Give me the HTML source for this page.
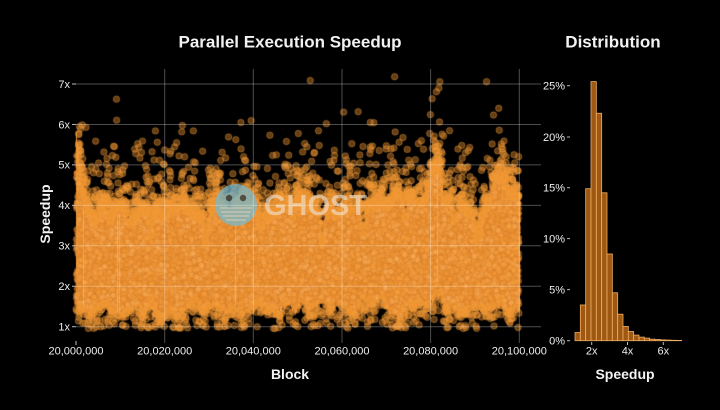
<!DOCTYPE html>
<html><head><meta charset="utf-8">
<style>
html,body{margin:0;padding:0;background:#000;}
#wrap{position:relative;width:720px;height:410px;background:#000;overflow:hidden;}
canvas,svg{position:absolute;left:0;top:0;}
text{font-family:"Liberation Sans",sans-serif;}
</style></head>
<body>
<div id="wrap">
<canvas id="c" width="720" height="410"></canvas>
<svg id="s" width="720" height="410" xmlns="http://www.w3.org/2000/svg">
  <!-- watermark -->
  <g opacity="0.75">
    <circle cx="236" cy="205" r="21" fill="rgb(120,185,205)"/>
    <circle cx="229" cy="198" r="3.2" fill="#22384a"/>
    <circle cx="243" cy="198" r="3.2" fill="#22384a"/>
    <g stroke="rgba(225,240,240,0.8)" stroke-width="1">
      <line x1="220" y1="208" x2="252" y2="208"/>
      <line x1="221" y1="212" x2="251" y2="212"/>
      <line x1="223" y1="216" x2="249" y2="216"/>
      <line x1="226" y1="220" x2="246" y2="220"/>
    </g>
  </g>
  <text x="264" y="215" font-size="29" font-weight="bold" fill="rgba(238,236,232,0.55)">GHOST</text>

  <!-- gridlines left -->
  <g stroke="rgba(255,255,255,0.3)" stroke-width="1">
    <line x1="76" y1="326.7" x2="541" y2="326.7"/>
    <line x1="76" y1="286.25" x2="541" y2="286.25"/>
    <line x1="76" y1="245.8" x2="541" y2="245.8"/>
    <line x1="76" y1="205.35" x2="541" y2="205.35"/>
    <line x1="76" y1="164.9" x2="541" y2="164.9"/>
    <line x1="76" y1="124.45" x2="541" y2="124.45"/>
    <line x1="76" y1="84" x2="541" y2="84"/>
    <line x1="164.7" y1="69" x2="164.7" y2="343"/>
    <line x1="253.3" y1="69" x2="253.3" y2="343"/>
    <line x1="342" y1="69" x2="342" y2="343"/>
    <line x1="430.6" y1="69" x2="430.6" y2="343"/>
    <line x1="519.3" y1="69" x2="519.3" y2="343"/>
  </g>
  <g stroke="#bbb" stroke-width="1">
    <line x1="72" y1="326.7" x2="76" y2="326.7"/>
    <line x1="72" y1="286.25" x2="76" y2="286.25"/>
    <line x1="72" y1="245.8" x2="76" y2="245.8"/>
    <line x1="72" y1="205.35" x2="76" y2="205.35"/>
    <line x1="72" y1="164.9" x2="76" y2="164.9"/>
    <line x1="72" y1="124.45" x2="76" y2="124.45"/>
    <line x1="72" y1="84" x2="76" y2="84"/>
    <line x1="76" y1="341" x2="76" y2="345"/>
    <line x1="567" y1="340.7" x2="570" y2="340.7"/>
    <line x1="567" y1="289.6" x2="570" y2="289.6"/>
    <line x1="567" y1="238.6" x2="570" y2="238.6"/>
    <line x1="567" y1="187.7" x2="570" y2="187.7"/>
    <line x1="567" y1="137" x2="570" y2="137"/>
    <line x1="567" y1="85.7" x2="570" y2="85.7"/>
    <line x1="591.7" y1="342" x2="591.7" y2="345"/>
    <line x1="627.5" y1="342" x2="627.5" y2="345"/>
    <line x1="663.3" y1="342" x2="663.3" y2="345"/>
  </g>

  <g font-size="11" fill="#eee" text-anchor="end">
    <text x="70" y="330.5">1x</text>
    <text x="70" y="290">2x</text>
    <text x="70" y="249.6">3x</text>
    <text x="70" y="209.2">4x</text>
    <text x="70" y="168.7">5x</text>
    <text x="70" y="128.3">6x</text>
    <text x="70" y="87.8">7x</text>
  </g>
  <g font-size="11" fill="#eee" text-anchor="middle">
    <text x="76" y="354.5">20,000,000</text>
    <text x="164.7" y="354.5">20,020,000</text>
    <text x="253.3" y="354.5">20,040,000</text>
    <text x="342" y="354.5">20,060,000</text>
    <text x="430.6" y="354.5">20,080,000</text>
    <text x="519.3" y="354.5">20,100,000</text>
  </g>
  <g font-size="11" fill="#eee" text-anchor="end">
    <text x="565" y="344.5">0%</text>
    <text x="565" y="293.4">5%</text>
    <text x="565" y="242.4">10%</text>
    <text x="565" y="191.5">15%</text>
    <text x="565" y="140.8">20%</text>
    <text x="565" y="89.5">25%</text>
  </g>
  <g font-size="11" fill="#eee" text-anchor="middle">
    <text x="591.7" y="354.5">2x</text>
    <text x="627.5" y="354.5">4x</text>
    <text x="663.3" y="354.5">6x</text>
  </g>
  <g id="hist"></g>

  <text x="290" y="47.5" font-size="17" font-weight="bold" fill="#f2f2f2" text-anchor="middle">Parallel Execution Speedup</text>
  <text x="613" y="47.5" font-size="17" font-weight="bold" fill="#f2f2f2" text-anchor="middle">Distribution</text>
  <text x="290" y="379" font-size="14" font-weight="bold" fill="#f2f2f2" text-anchor="middle">Block</text>
  <text x="625" y="379" font-size="14" font-weight="bold" fill="#f2f2f2" text-anchor="middle">Speedup</text>
  <text x="0" y="0" font-size="14" font-weight="bold" fill="#f2f2f2" text-anchor="middle" transform="translate(50,214) rotate(-90)">Speedup</text>
</svg>
</div>
<script>
(function(){
  var pcts=[0.8,3.5,14.9,25.4,22.3,14.5,8.5,4.7,2.6,1.4,0.9,0.55,0.35,0.25,0.15,0.12,0.08,0.06,0.04,0.03];
  var g=document.getElementById('hist');
  var ns='http://www.w3.org/2000/svg';
  for(var i=0;i<pcts.length;i++){
    var h=pcts[i]*10.2, x=575+i*5.333;
    var rc=document.createElementNS(ns,'rect');
    rc.setAttribute('x',x.toFixed(2));rc.setAttribute('y',(340.7-h).toFixed(2));
    rc.setAttribute('width','5.333');rc.setAttribute('height',h.toFixed(2));
    rc.setAttribute('fill','#9e5812');rc.setAttribute('stroke','#eeae66');rc.setAttribute('stroke-width','0.8');
    g.appendChild(rc);
  }

  var cv=document.getElementById('c'), ctx=cv.getContext('2d');
  var s=987654321;
  function r(){ s^=s<<13; s^=s>>>17; s^=s<<5; return (s>>>0)/4294967296; }
  function expo(m){ return -m*Math.log(1-r()*0.999999); }
  var X0=76, X1=519, W=X1-X0+1;
  var ctrl=[[76,140],[79,170],[84,200],[95,212],[110,206],[125,214],[140,208],[160,212],[180,206],[200,212],[220,214],[240,210],[260,206],[280,210],[290,195],[296,190],[302,205],[320,212],[340,210],[360,206],[380,202],[400,200],[415,194],[425,200],[431,165],[438,158],[444,195],[460,205],[475,212],[488,200],[495,175],[503,170],[509,190],[519,198]];
  function interp(x){
    for(var i=0;i<ctrl.length-1;i++){
      if(x<=ctrl[i+1][0]){var a=ctrl[i][0],ya=ctrl[i][1],b=ctrl[i+1][0],yb=ctrl[i+1][1];return ya+(yb-ya)*(x-a)/(b-a);}
    }
    return ctrl[ctrl.length-1][1];
  }
  var raw=[],raw2=[];
  for(var i=0;i<W;i++){raw.push(r()-0.5);raw2.push(r()-0.5);}
  function smooth(a,k){var o=[];for(var i=0;i<a.length;i++){var t=0,n=0;for(var j=i-k;j<=i+k;j++){if(j>=0&&j<a.length){t+=a[j];n++;}}o.push(t/n);}return o;}
  var sm=smooth(raw,4), sm2=smooth(raw2,4);
  var T=[],B=[];
  var dips=[[150,22,2],[205,25,2],[292,28,2],[322,25,2],[363,26,2],[405,18,2],[455,20,2],[477,26,3],[110,15,2],[260,18,2]];
  var bumps=[[437,12,4],[300,6,3],[150,6,3],[95,5,3],[470,7,3],[210,5,3],[380,6,3]];
  for(var i=0;i<W;i++){
    var x=X0+i;
    var t=interp(x)+sm[i]*40+raw[i]*5;
    for(var d=0;d<dips.length;d++){var dx=Math.abs(x-dips[d][0]);if(dx<dips[d][2]+1)t+=dips[d][1]*(1-dx/(dips[d][2]+1));}
    T.push(t);
    var b=309+sm2[i]*40+raw2[i]*4;
    for(var d=0;d<bumps.length;d++){var dx=Math.abs(x-bumps[d][0]);if(dx<bumps[d][2]+1)b-=bumps[d][1]*(1-dx/(bumps[d][2]+1));}
    B.push(b);
  }
  ctx.fillStyle='rgb(243,155,58)';
  for(var i=0;i<W;i++){ctx.fillRect(X0+i,T[i]+3,1,Math.max(0,B[i]-T[i]-6));}
  var pal=['rgba(246,160,64,0.6)','rgba(236,146,50,0.6)','rgba(250,172,86,0.5)','rgba(240,152,56,0.6)'];
  ctx.lineWidth=0.6;
  for(var k=0;k<9000;k++){
    var x=X0+r()*(W-1), i=Math.floor(x-X0);
    var y=T[i]+3+r()*Math.max(0,B[i]-T[i]-6);
    ctx.beginPath();ctx.arc(x,y,3,0,6.2832);
    ctx.fillStyle=pal[(r()*4)|0];ctx.fill();
    ctx.strokeStyle='rgba(200,110,30,0.45)';ctx.stroke();
  }
  ctx.fillStyle='rgba(255,225,180,0.3)';
  [83,117,119,235,437].forEach(function(x){var i=x-X0;ctx.fillRect(x,T[i]+8,1,B[i]-T[i]-12);});
  ctx.lineWidth=0.8;
  function pt(x,y){
    ctx.beginPath();ctx.arc(x,y,3.2,0,6.2832);
    ctx.fillStyle='rgba(238,148,48,0.42)';ctx.fill();
    ctx.strokeStyle='rgba(245,160,62,0.5)';ctx.stroke();
  }
  for(var k=0;k<900;k++){
    var x=X0+r()*(W-1), i=Math.floor(x-X0);
    var y=T[i]+3-expo(5);
    pt(x,y);
  }
  for(var k=0;k<1200;k++){
    var x=X0+r()*(W-1), i=Math.floor(x-X0);
    var y=T[i]+3-expo(21);
    if(y<72) continue;
    pt(x,y);
  }
  for(var k=0;k<650;k++){
    var x=X0+r()*(W-1), i=Math.floor(x-X0);
    var y=B[i]-3+expo(7);
    if(y>328.5) y=325+r()*3.5;
    pt(x,y);
  }
})();
</script>
</body></html>
